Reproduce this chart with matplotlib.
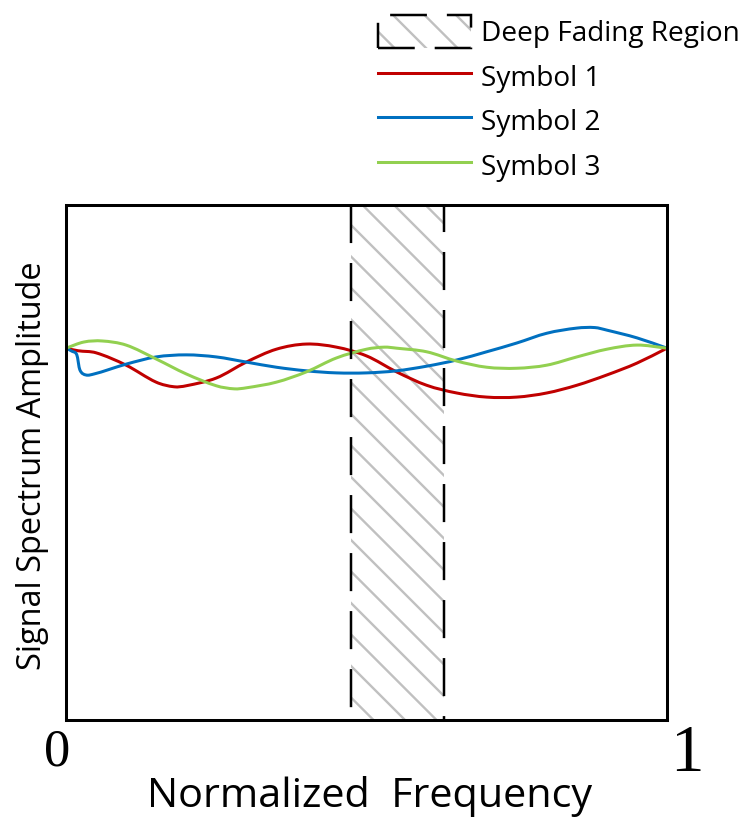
import matplotlib
matplotlib.use("Agg")
import matplotlib.pyplot as plt
from matplotlib.patches import Patch, PathPatch
from matplotlib.lines import Line2D
from matplotlib.path import Path
from matplotlib.legend_handler import HandlerTuple

# ---------------- data ----------------
freq_s1 = [0, .02, .05, .10, .15, .18, .20, .25, .30, .35, .40, .45, .50, .55, .60, .65, .70, .75, .80, .85, .90, .95, 1.0]
amp_s1 = [0.722, 0.717, 0.713, 0.689, 0.656, 0.647, 0.649, 0.664, 0.695, 0.720, 0.730, 0.724, 0.707, 0.676, 0.650,
          0.635, 0.627, 0.627, 0.635, 0.650, 0.670, 0.693, 0.722]

freq_s2 = [0, .01, .018, .023, .033, .047, .07, .10, .15, .20, .25, .30, .35, .40, .45, .50, .55, .60, .65, .70,
           .75, .80, .85, .88, .90, .95, 1.0]
amp_s2 = [0.722, 0.716, 0.709, 0.680, 0.670, 0.672, 0.680, 0.691, 0.705, 0.709, 0.705, 0.695, 0.685, 0.678, 0.674,
          0.674, 0.678, 0.687, 0.699, 0.715, 0.732, 0.751, 0.761, 0.762, 0.757, 0.742, 0.722]

freq_s3 = [0, .03, .06, .10, .15, .20, .25, .28, .30, .35, .40, .45, .50, .53, .55, .60, .65, .70, .75, .80, .85,
           .90, .95, 1.0]
amp_s3 = [0.722, 0.734, 0.736, 0.728, 0.701, 0.672, 0.649, 0.643, 0.645, 0.656, 0.676, 0.703, 0.720, 0.724, 0.722,
          0.715, 0.697, 0.685, 0.683, 0.689, 0.705, 0.720, 0.728, 0.722]

series_labels = ["Symbol 1", "Symbol 2", "Symbol 3"]
series_colors = ["#C00000", "#0070C0", "#92D050"]
fade_region = (0.474, 0.629)
region_label = "Deep Fading Region"
x_tick_labels = ["0", "1"]
x_label = "Normalized  Frequency"
y_label = "Signal Spectrum Amplitude"


def smooth_path(xs, ys):
    """Cubic Hermite curve through the given points, as a Bezier path."""
    n = len(xs)
    m = []
    for i in range(n):
        if i == 0:
            m.append((ys[1] - ys[0]) / (xs[1] - xs[0]))
        elif i == n - 1:
            m.append((ys[-1] - ys[-2]) / (xs[-1] - xs[-2]))
        else:
            m.append((ys[i + 1] - ys[i - 1]) / (xs[i + 1] - xs[i - 1]))
    verts = [(xs[0], ys[0])]
    codes = [Path.MOVETO]
    for i in range(n - 1):
        dx = xs[i + 1] - xs[i]
        verts += [(xs[i] + dx / 3, ys[i] + m[i] * dx / 3),
                  (xs[i + 1] - dx / 3, ys[i + 1] - m[i + 1] * dx / 3),
                  (xs[i + 1], ys[i + 1])]
        codes += [Path.CURVE4] * 3
    return Path(verts, codes)


# ---------------- figure ----------------
DPI = 189
W, H = 745, 826
plt.rcParams['font.family'] = ['Open Sans', 'DejaVu Sans']
plt.rcParams['hatch.linewidth'] = 0.9
plt.rcParams['lines.scale_dashes'] = False

fig = plt.figure(figsize=(W / DPI, H / DPI), dpi=DPI)
ax = fig.add_axes([66 / W, 1 - 720 / H, (667 - 66) / W, (720 - 205) / H])
ax.set_xlim(0, 1)
ax.set_ylim(0, 1)
ax.set_xticks([])
ax.set_yticks([])
for s in ax.spines.values():
    s.set_linewidth(1.15)
    s.set_zorder(6)

# fading region: hatch + dashed borders
hatch_gray = "#c0c0c0"
ax.axvspan(fade_region[0], fade_region[1], facecolor="white", edgecolor=hatch_gray,
           hatch="\\\\", linewidth=0, zorder=1)
ax.plot([fade_region[0]] * 2, [1, 0], color="black", lw=0.95,
        linestyle=(0, (14.5, 7.6)), zorder=5)
ax.plot([fade_region[1]] * 2, [1, 0], color="black", lw=0.95,
        linestyle=(4.2, (14.5, 7.6)), zorder=5)

# curves
for fx, fy, c in zip([freq_s1, freq_s2, freq_s3], [amp_s1, amp_s2, amp_s3], series_colors):
    ax.add_patch(PathPatch(smooth_path(fx, fy), facecolor="none", edgecolor=c,
                           lw=1.15, zorder=3, capstyle="round", joinstyle="round"))

# legend
region_handle = (Patch(facecolor="white", edgecolor=hatch_gray, hatch="\\\\", linewidth=0),
                 Patch(facecolor="none", edgecolor="black", linewidth=0.95, linestyle=(0, (14, 7.6))))
handles = [region_handle] + [Line2D([], [], color=c, lw=1.15) for c in series_colors]
labels = [region_label] + series_labels
leg = fig.legend(handles, labels, loc="upper left", bbox_to_anchor=(378 / W, 1 - 15 / H),
                 frameon=False, fontsize=10.7, handlelength=3.3, handleheight=1.43,
                 handletextpad=0.36, labelspacing=0.42, borderpad=0, borderaxespad=0,
                 handler_map={tuple: HandlerTuple(ndivide=1, pad=0)})

# axis text
fig.text(57 / W, 1 - 765 / H, x_tick_labels[0], family="Liberation Serif", fontsize=20,
         ha="center", va="baseline")
fig.text(687 / W, 1 - 771 / H, x_tick_labels[1], family="Liberation Serif", fontsize=25.5,
         ha="center", va="baseline")
fig.text(369.5 / W, 1 - 807 / H, x_label, fontsize=15.75, ha="center", va="baseline")
fig.text(33 / W, 1 - 466 / H, y_label, fontsize=12.4, rotation=90, ha="center", va="center")

fig.savefig("out.png", dpi=DPI, facecolor="white")
